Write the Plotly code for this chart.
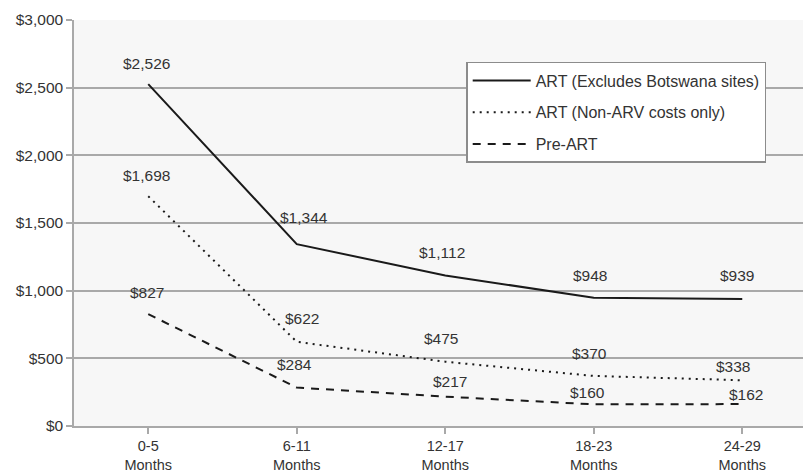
import plotly.graph_objects as go

categories = ["0-5<br>Months", "6-11<br>Months", "12-17<br>Months", "18-23<br>Months", "24-29<br>Months"]
art_excl_botswana = [2526, 1344, 1112, 948, 939]
art_non_arv = [1698, 622, 475, 370, 338]
pre_art = [827, 284, 217, 160, 162]
y_ticks = [0, 500, 1000, 1500, 2000, 2500, 3000]

series = [
    ("ART (Excludes Botswana sites)", art_excl_botswana, "solid"),
    ("ART (Non-ARV costs only)", art_non_arv, "2px,5px"),
    ("Pre-ART", pre_art, "8px,7px"),
]

# label offsets (style): (xshift, yshift) in px per point
label_offsets = [
    [(-2, 21), (7, 27), (-3, 23), (-4, 22), (-5, 23)],
    [(-2, 21), (5, 23), (-4, 23), (-4, 22), (-9, 14)],
    [(-1, 22), (-2, 23), (5, 15), (-6, 12), (4, 10)],
]

FONT = "Liberation Sans, Arial, Helvetica, sans-serif"
TXT = "#333333"
GRID = "#a9a9a9"

fig = go.Figure()
xs = list(range(len(categories)))
for i, (name, vals, dash) in enumerate(series):
    fig.add_trace(go.Scatter(
        x=xs, y=vals, mode="lines", name=name, legendgroup=f"g{i}",
        line=dict(color="#1a1a1a", width=2, dash=dash),
        hoverinfo="skip",
    ))
    for j, v in enumerate(vals):
        dx, dy = label_offsets[i][j]
        fig.add_annotation(
            x=xs[j], y=v, text=f"${v:,}", showarrow=False,
            xshift=dx, yshift=dy,
            font=dict(family=FONT, size=15.5, color=TXT),
        )

fig.update_layout(
    width=803, height=474,
    margin=dict(l=74, r=0, t=20, b=48),
    paper_bgcolor="white",
    plot_bgcolor="#f7f7f7",
    font=dict(family=FONT, size=15.5, color=TXT),
    showlegend=True,
    legend=dict(
        x=0.538, y=0.8966, xanchor="left", yanchor="top",
        bgcolor="white", bordercolor="#8c8c8c", borderwidth=1.5,
        font=dict(family=FONT, size=16, color=TXT),
        tracegroupgap=8,
        traceorder="grouped",
        itemwidth=58,
    ),
    xaxis=dict(
        tickmode="array", tickvals=xs, ticktext=categories,
        range=[-0.5, 4.409],
        showgrid=False, zeroline=False,
        showline=True, linecolor=GRID, linewidth=1.5,
        ticks="outside", ticklen=6, tickcolor=GRID, tickwidth=1.5,
        tickson="boundaries",
        tickfont=dict(family=FONT, size=14.5, color=TXT),
        fixedrange=True,
    ),
    yaxis=dict(
        range=[0, 3000],
        tickmode="array", tickvals=y_ticks,
        ticktext=[f"${t:,}" for t in y_ticks],
        showgrid=True, gridcolor=GRID, gridwidth=1.5,
        zeroline=False,
        showline=True, linecolor=GRID, linewidth=1.5,
        ticks="outside", ticklen=6, tickcolor=GRID, tickwidth=1.5,
        tickfont=dict(family=FONT, size=15.5, color=TXT),
        fixedrange=True,
    ),
)

fig.write_html(
    "out.html",
    config={"displayModeBar": False},
    post_script="document.body.style.margin='0';document.body.style.overflow='hidden';",
)
